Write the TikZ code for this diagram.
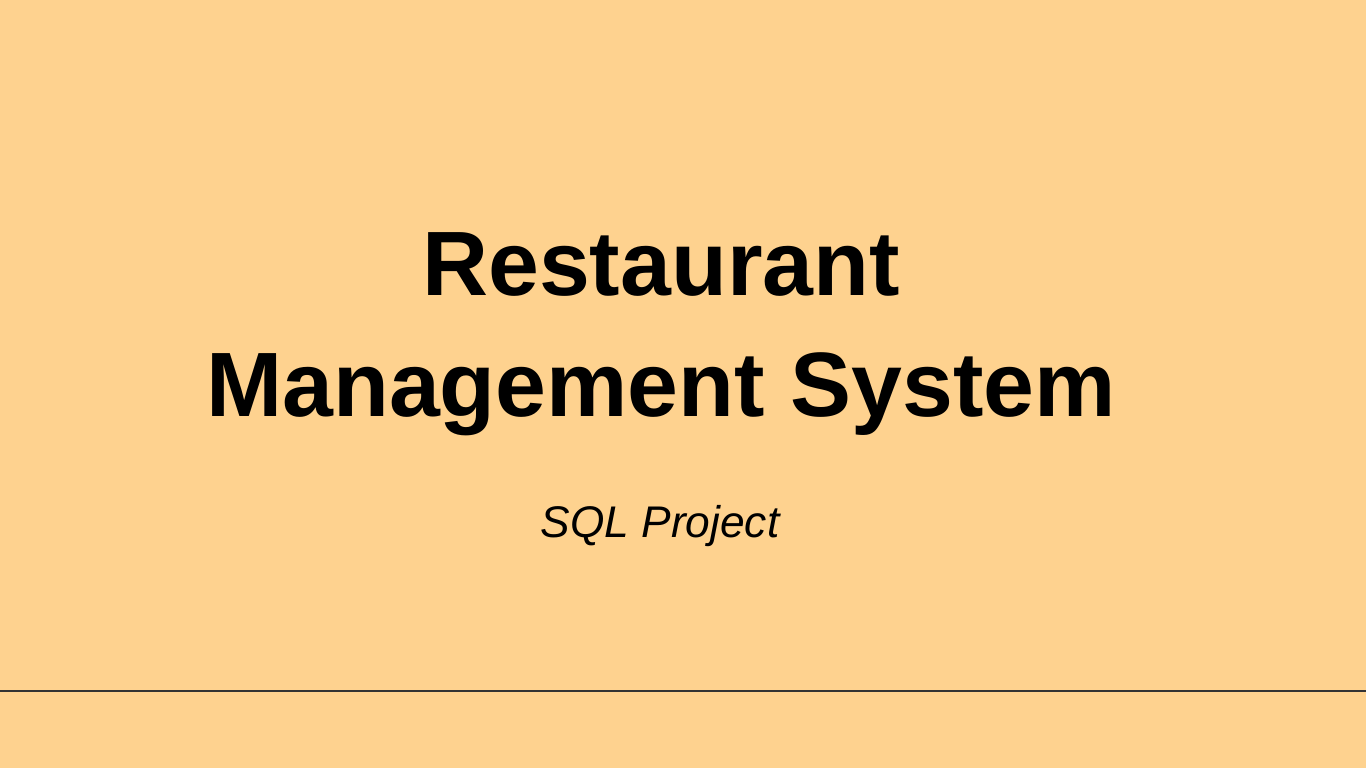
\documentclass[tikz,border=0pt]{standalone}
\usepackage{fontspec}
\setmainfont{Liberation Sans}
\definecolor{bgc}{HTML}{FED28F}
\definecolor{linec}{HTML}{333333}
\tikzset{
  title/.style={anchor=base, inner sep=0pt, font=\fontsize{26pt}{30pt}\selectfont\bfseries},
  subtitle/.style={anchor=base, inner sep=0pt, font=\fontsize{12.6pt}{16pt}\selectfont\itshape},
}
\begin{document}
\begin{tikzpicture}[x=0.01cm,y=-0.01cm]
\fill[bgc] (0,0) rectangle (1366,768);
\useasboundingbox (0,0) rectangle (1366,768);
\node[title] (t1) at (661,296) {Restaurant};
\node[title] (t2) at (661,417) {Management System};
\node[subtitle] (st) at (660,538) {SQL Project};
\coordinate (l1) at (0,691);
\coordinate (l2) at (1366,691);
\draw[linec, line width=0.3pt] (l1) -- (l2);
\end{tikzpicture}
\end{document}
